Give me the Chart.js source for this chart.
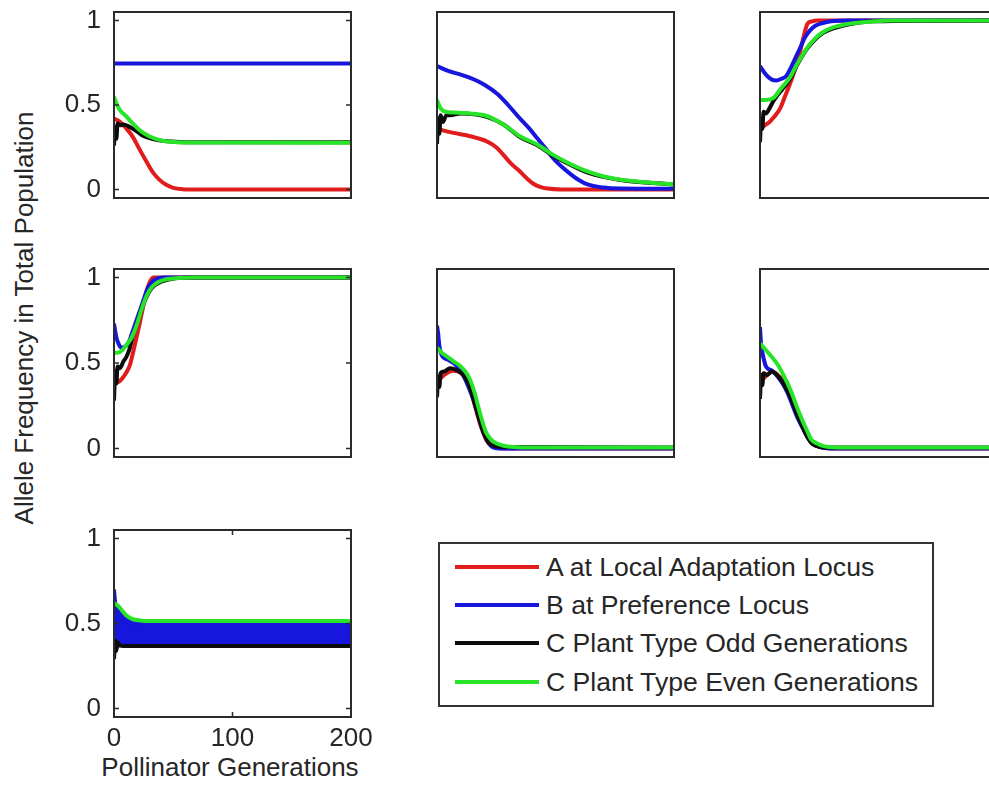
<!DOCTYPE html>
<html>
<head>
<meta charset="utf-8">
<title>Allele frequencies</title>
<script src="https://cdn.jsdelivr.net/npm/chart.js@4.4.1/dist/chart.umd.min.js"></script>
<style>
  html, body { margin: 0; padding: 0; width: 989px; height: 790px; overflow: hidden; background: #fff; }
  body { position: relative; font-family: "Liberation Sans", Arial, sans-serif; color: #262626; }
  canvas { position: absolute; }
  #ytitle { position: absolute; left: -206px; top: 303px; width: 460px; height: 30px; line-height: 30px;
            font-size: 26px; text-align: center; transform: rotate(-90deg); white-space: nowrap; }
  #xtitle { position: absolute; left: 80px; top: 752px; width: 300px; height: 30px; line-height: 30px;
            font-size: 26px; text-align: center; white-space: nowrap; }
  #legend { position: absolute; left: 438px; top: 542px; width: 492px; height: 161px; border: 2px solid #333; }
  #legend .row { position: absolute; left: 0; height: 30px; line-height: 30px; font-size: 26.6px; white-space: nowrap; }
  #legend .swatch { position: absolute; left: 15px; top: 13px; width: 84px; height: 4px; }
  #legend .label { position: absolute; left: 106px; top: 0; }
</style>
</head>
<body>
<div id="ytitle">Allele Frequency in Total Population</div>
<div id="xtitle">Pollinator Generations</div>
<div id="legend"></div>
<script>
var seriesNames = ['A at Local Adaptation Locus', 'B at Preference Locus',
                   'C Plant Type Odd Generations', 'C Plant Type Even Generations'];
var seriesColors = ['rgb(225,28,28)', 'rgb(22,22,220)', 'rgb(12,12,12)', 'rgb(40,228,40)'];

var yTickValues = [0, 0.5, 1];
var yTickLabels = ['0', '0.5', '1'];
var xTickValues = [0, 100, 200];
var xTickLabels = ['0', '100', '200'];

// [generation, frequency] per panel and locus
var p1A = [[0,0.42],[5,0.40],[10,0.365],[16,0.31],[21,0.245],[27,0.17],[33,0.10],[38,0.06],[44,0.028],[50,0.01],[58,0.002],[70,0],[200,0]];
var p1B = [[0,0.745],[200,0.745]];
var p1Codd = [[0,0.26],[1,0.37],[2,0.30],[3,0.39],[5,0.38],[8,0.385],[12,0.375],[18,0.35],[24,0.32],[32,0.30],[45,0.285],[60,0.28],[200,0.279]];
var p1Ceven = [[0,0.55],[2,0.51],[5,0.47],[10,0.435],[16,0.39],[21,0.355],[27,0.325],[33,0.305],[40,0.29],[48,0.282],[60,0.278],[200,0.277]];

var p2A = [[0,0.36],[5,0.35],[14,0.335],[28,0.315],[42,0.285],[50,0.25],[56,0.205],[63,0.15],[70,0.107],[76,0.065],[81,0.036],[87,0.016],[93,0.006],[105,0.001],[200,0]];
var p2B = [[0,0.73],[10,0.70],[20,0.68],[28,0.66],[40,0.62],[51,0.565],[60,0.50],[70,0.42],[78,0.36],[85,0.30],[92,0.24],[98,0.185],[106,0.13],[113,0.09],[120,0.055],[127,0.03],[140,0.012],[155,0.006],[200,0.004]];
var p2Codd = [[0,0.27],[1,0.42],[2,0.33],[3,0.44],[5,0.40],[8,0.44],[11,0.44],[20,0.45],[42,0.43],[56,0.385],[70,0.31],[85,0.26],[98,0.20],[113,0.145],[127,0.10],[155,0.056],[200,0.03]];
var p2Ceven = [[0,0.53],[3,0.48],[7,0.46],[15,0.455],[28,0.45],[42,0.435],[56,0.385],[70,0.315],[85,0.265],[98,0.205],[113,0.15],[127,0.107],[141,0.077],[155,0.058],[178,0.042],[200,0.03]];

var p3A = [[0,0.36],[4,0.38],[8,0.40],[12,0.43],[17,0.48],[21,0.55],[25,0.62],[30,0.72],[34,0.82],[37,0.91],[40,0.98],[44,0.995],[48,1],[200,1]];
var p3B = [[0,0.73],[5,0.68],[10,0.65],[14,0.645],[18,0.655],[22,0.67],[26,0.72],[30,0.78],[34,0.84],[38,0.90],[42,0.94],[47,0.97],[53,0.985],[60,0.995],[75,1],[200,1]];
var p3Codd = [[0,0.28],[1,0.42],[2,0.36],[3,0.46],[5,0.45],[8,0.48],[11,0.52],[15,0.56],[25,0.65],[32,0.745],[40,0.835],[53,0.925],[68,0.965],[96,0.995],[200,1]];
var p3Ceven = [[0,0.53],[5,0.53],[11,0.54],[18,0.60],[25,0.66],[32,0.75],[40,0.84],[46,0.89],[53,0.93],[60,0.955],[68,0.97],[80,0.985],[96,0.995],[110,1],[200,1]];

var p4A = [[0,0.38],[4,0.39],[7,0.41],[10,0.44],[13,0.48],[15,0.53],[18,0.62],[21,0.71],[24,0.81],[27,0.91],[30,0.97],[33,1],[200,1]];
var p4B = [[0,0.73],[2,0.65],[4,0.61],[6,0.59],[10,0.60],[13,0.63],[15,0.67],[18,0.73],[21,0.79],[25,0.87],[28,0.93],[31,0.965],[35,0.99],[42,1],[200,1]];
var p4Codd = [[0,0.28],[1,0.45],[2,0.38],[3,0.48],[5,0.47],[8,0.51],[10,0.53],[13,0.58],[16,0.66],[20,0.74],[24,0.83],[28,0.895],[32,0.94],[44,0.985],[66,1],[200,1]];
var p4Ceven = [[0,0.56],[3,0.56],[7,0.575],[11,0.61],[15,0.65],[20,0.74],[24,0.83],[28,0.90],[32,0.945],[38,0.975],[44,0.99],[55,0.997],[66,1],[200,1]];

var p5A = [[0,0.38],[3,0.41],[8,0.44],[14,0.455],[18,0.45],[22,0.43],[26,0.39],[30,0.30],[34,0.20],[38,0.11],[42,0.045],[46,0.015],[52,0.003],[60,0],[200,0]];
var p5B = [[0,0.72],[1,0.67],[2,0.60],[4,0.545],[9,0.52],[14,0.50],[18,0.47],[22,0.43],[26,0.37],[31,0.28],[35,0.19],[39,0.10],[43,0.04],[47,0.008],[55,0],[200,0]];
var p5Codd = [[0,0.30],[1,0.42],[2,0.36],[3,0.44],[6,0.45],[11,0.47],[16,0.46],[22,0.43],[26,0.39],[30,0.31],[34,0.21],[38,0.12],[42,0.05],[46,0.02],[56,0.008],[200,0.005]];
var p5Ceven = [[0,0.59],[4,0.56],[9,0.535],[14,0.51],[20,0.48],[25,0.44],[28,0.40],[32,0.32],[35,0.24],[38,0.165],[41,0.10],[45,0.057],[50,0.03],[56,0.016],[65,0.008],[80,0.005],[200,0.005]];

var p6A = [[0,0.40],[3,0.41],[6,0.43],[10,0.45],[15,0.43],[19,0.40],[23,0.35],[27,0.29],[31,0.21],[36,0.13],[40,0.07],[44,0.03],[50,0.01],[60,0],[200,0]];
var p6B = [[0,0.71],[1,0.60],[2,0.56],[5,0.48],[10,0.455],[15,0.42],[19,0.38],[23,0.33],[27,0.26],[31,0.19],[36,0.12],[40,0.07],[44,0.03],[50,0.01],[60,0],[200,0]];
var p6Codd = [[0,0.29],[1,0.43],[2,0.37],[3,0.44],[6,0.43],[10,0.45],[15,0.425],[19,0.39],[23,0.34],[27,0.28],[31,0.205],[36,0.125],[40,0.065],[44,0.028],[50,0.01],[60,0.005],[200,0.005]];
var p6Ceven = [[0,0.615],[5,0.575],[10,0.535],[15,0.49],[19,0.44],[23,0.385],[27,0.32],[31,0.245],[36,0.16],[40,0.10],[43,0.055],[48,0.03],[53,0.015],[65,0.006],[200,0.005]];

// last panel: B flips between two levels every generation, drawn as a band
var p7A = [[0,0.38],[2,0.40],[5,0.42],[10,0.43],[200,0.43]];
var p7Bhigh = [[0,0.70],[1,0.62],[3,0.58],[6,0.55],[10,0.525],[15,0.51],[22,0.50],[30,0.497],[200,0.497]];
var p7Blow = [[0,0.42],[3,0.40],[8,0.385],[15,0.38],[200,0.38]];
var p7Codd = [[0,0.29],[1,0.40],[2,0.34],[3,0.39],[5,0.37],[8,0.368],[200,0.368]];
var p7Ceven = [[0,0.62],[4,0.60],[7,0.575],[10,0.55],[13,0.535],[16,0.525],[22,0.518],[30,0.515],[200,0.515]];

var panels = [
  { id: 'c1', left: 114, top: 12,  width: 237, height: 186, a: p1A, b: p1B, odd: p1Codd, even: p1Ceven, showY: true },
  { id: 'c2', left: 437, top: 12,  width: 237, height: 186, a: p2A, b: p2B, odd: p2Codd, even: p2Ceven },
  { id: 'c3', left: 760, top: 12,  width: 237, height: 186, a: p3A, b: p3B, odd: p3Codd, even: p3Ceven },
  { id: 'c4', left: 114, top: 269, width: 237, height: 188, a: p4A, b: p4B, odd: p4Codd, even: p4Ceven, showY: true },
  { id: 'c5', left: 437, top: 269, width: 237, height: 188, a: p5A, b: p5B, odd: p5Codd, even: p5Ceven },
  { id: 'c6', left: 760, top: 269, width: 237, height: 188, a: p6A, b: p6B, odd: p6Codd, even: p6Ceven },
  { id: 'c7', left: 114, top: 530, width: 237, height: 187, a: p7A, bHigh: p7Bhigh, bLow: p7Blow, odd: p7Codd, even: p7Ceven, showY: true, showX: true }
];

Chart.defaults.font.family = '"Liberation Sans", Arial, sans-serif';

var tickFont = { size: 26 };
var tickColor = '#262626';

// box around each axes plus short inward tick marks
var framePlugin = {
  id: 'frame',
  afterDatasetsDraw: function(chart, args, opts) {
    var a = chart.chartArea;
    var ctx = chart.ctx;
    ctx.save();
    ctx.strokeStyle = '#2b2b2b';
    ctx.lineWidth = 2;
    ctx.strokeRect(a.left, a.top, a.right - a.left, a.bottom - a.top);
    ctx.lineWidth = 1.5;
    ctx.beginPath();
    if (opts.yTicks) {
      yTickValues.forEach(function(v) {
        var py = chart.scales.y.getPixelForValue(v);
        ctx.moveTo(a.left, py); ctx.lineTo(a.left + 5, py);
        ctx.moveTo(a.right, py); ctx.lineTo(a.right - 5, py);
      });
    }
    if (opts.xTicks) {
      xTickValues.forEach(function(v) {
        var px = chart.scales.x.getPixelForValue(v);
        ctx.moveTo(px, a.bottom); ctx.lineTo(px, a.bottom - 5);
        ctx.moveTo(px, a.top); ctx.lineTo(px, a.top + 5);
      });
    }
    ctx.stroke();
    ctx.restore();
  }
};

function toPoints(arr) {
  return arr.map(function(p) { return { x: p[0], y: p[1] }; });
}

function lineSet(label, data, color, fill) {
  return {
    label: label,
    data: toPoints(data),
    borderColor: color,
    backgroundColor: color,
    borderWidth: 4,
    borderJoinStyle: 'round',
    pointRadius: 0,
    cubicInterpolationMode: 'monotone',
    fill: fill || false
  };
}

function makePanel(p) {
  // room round the plot box for tick labels; hidden axes just get empty margin
  var padL = p.showY ? 100 : 20;
  var padB = p.showX ? 45 : 35;
  var padT = 35, padR = 30;

  var canvas = document.createElement('canvas');
  canvas.id = p.id;
  canvas.width = p.width + padL + padR;
  canvas.height = p.height + padT + padB;
  canvas.style.left = (p.left - padL) + 'px';
  canvas.style.top = (p.top - padT) + 'px';
  document.body.appendChild(canvas);

  // first dataset is painted last, so even generations end up on top
  var sets = [
    lineSet(seriesNames[3], p.even, seriesColors[3]),
    lineSet(seriesNames[2], p.odd, seriesColors[2])
  ];
  if (p.bHigh) {
    sets.push(lineSet(seriesNames[1], p.bHigh, seriesColors[1], '+1'));
    sets.push(lineSet(seriesNames[1], p.bLow, seriesColors[1]));
  } else {
    sets.push(lineSet(seriesNames[1], p.b, seriesColors[1]));
  }
  sets.push(lineSet(seriesNames[0], p.a, seriesColors[0]));

  new Chart(canvas, {
    type: 'line',
    data: { datasets: sets },
    plugins: [framePlugin],
    options: {
      responsive: false,
      animation: false,
      devicePixelRatio: 1,
      layout: { padding: { top: padT, right: padR, left: p.showY ? 0 : padL, bottom: p.showX ? 0 : padB } },
      plugins: {
        legend: { display: false },
        tooltip: { enabled: false },
        frame: { yTicks: !!p.showY, xTicks: !!p.showX }
      },
      scales: {
        x: {
          type: 'linear', min: 0, max: 200,
          display: !!p.showX,
          afterBuildTicks: function(s) { s.ticks = xTickValues.map(function(v) { return { value: v }; }); },
          afterFit: function(s) { if (p.showX) s.height = padB; },
          ticks: {
            font: tickFont, color: tickColor, padding: 6, autoSkip: false, maxRotation: 0,
            callback: function(v, i) { return xTickLabels[i]; }
          },
          grid: { display: false, drawTicks: false },
          border: { display: false }
        },
        y: {
          type: 'linear', min: -0.05, max: 1.05,
          display: !!p.showY,
          afterBuildTicks: function(s) { s.ticks = yTickValues.map(function(v) { return { value: v }; }); },
          afterFit: function(s) { if (p.showY) s.width = padL; },
          ticks: {
            font: tickFont, color: tickColor, padding: 13,
            callback: function(v, i) { return yTickLabels[i]; }
          },
          grid: { display: false, drawTicks: false },
          border: { display: false }
        }
      }
    }
  });
}

panels.forEach(makePanel);

// legend box
var legend = document.getElementById('legend');
var rowTops = [8, 46, 84, 123];
seriesNames.forEach(function(name, i) {
  var row = document.createElement('div');
  row.className = 'row';
  row.style.top = rowTops[i] + 'px';
  var sw = document.createElement('div');
  sw.className = 'swatch';
  sw.style.background = seriesColors[i];
  var lb = document.createElement('div');
  lb.className = 'label';
  lb.textContent = name;
  row.appendChild(sw);
  row.appendChild(lb);
  legend.appendChild(row);
});
</script>
</body>
</html>
